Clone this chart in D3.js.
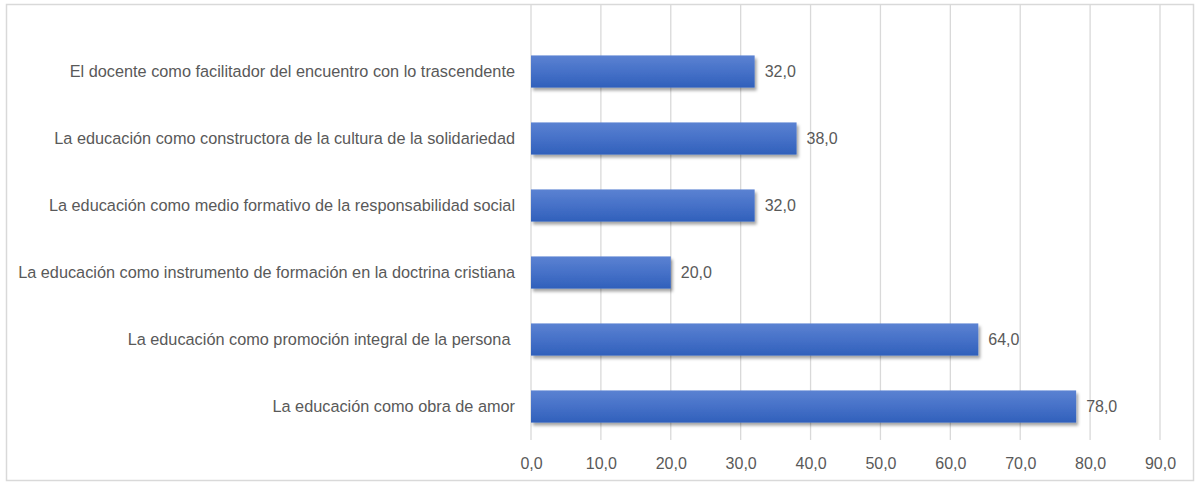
<!DOCTYPE html>
<html>
<head>
<meta charset="utf-8">
<script src="https://cdn.jsdelivr.net/npm/d3@7"></script>
<style>
  html, body { margin: 0; padding: 0; background: #fff; }
  svg text { font-family: "Liberation Sans", Arial, sans-serif; fill: #595959; }
</style>
</head>
<body>
<svg id="chart" width="1198" height="485"></svg>
<script>
// Categories, top to bottom
const categories = [
  "El docente como facilitador del encuentro con lo trascendente",
  "La educación como constructora de la cultura de la solidariedad",
  "La educación como medio formativo de la responsabilidad social",
  "La educación como instrumento de formación en la doctrina cristiana",
  "La educación como promoción integral de la persona ",
  "La educación como obra de amor"
];
// Percentages per category
const values = [32.0, 38.0, 32.0, 20.0, 64.0, 78.0];
// Axis ticks
const tickValues = [0, 10, 20, 30, 40, 50, 60, 70, 80, 90];

const svg = d3.select("#chart");
const fmt = v => v.toFixed(1).replace(".", ",");
const fontStack = "\"Liberation Sans\", Arial, sans-serif";

// Outer chart border
svg.append("rect")
  .attr("x", 6.5).attr("y", 4.5)
  .attr("width", 1187).attr("height", 476)
  .attr("fill", "#fff").attr("stroke", "#d9d9d9").attr("stroke-width", 1.5);

const x = d3.scaleLinear().domain([0, 90]).range([531, 1160]);
const y = d3.scaleBand().domain(categories).range([38, 440]).paddingInner(0.52).paddingOuter(0.26);

// Bar gradient and shadow
const defs = svg.append("defs");
const grad = defs.append("linearGradient").attr("id", "barGrad")
  .attr("x1", 0).attr("y1", 0).attr("x2", 0).attr("y2", 1);
grad.append("stop").attr("offset", "0%").attr("stop-color", "#5b82d2");
grad.append("stop").attr("offset", "50%").attr("stop-color", "#4671c8");
grad.append("stop").attr("offset", "100%").attr("stop-color", "#3060bb");
const shadow = defs.append("filter").attr("id", "barShadow")
  .attr("x", "-5%").attr("y", "-20%").attr("width", "115%").attr("height", "160%");
shadow.append("feDropShadow").attr("dx", 2).attr("dy", 3).attr("stdDeviation", 1.8)
  .attr("flood-color", "#000").attr("flood-opacity", 0.35);

// Vertical gridlines
svg.append("g").selectAll("line").data(tickValues).join("line")
  .attr("x1", d => x(d)).attr("x2", d => x(d))
  .attr("y1", 5).attr("y2", 440)
  .attr("stroke", "#d9d9d9").attr("stroke-width", 1.3);

// Bottom axis labels
const xAxis = d3.axisBottom(x).tickValues(tickValues).tickFormat(fmt).tickSize(0).tickPadding(0);
const gx = svg.append("g").attr("transform", "translate(0,458)").call(xAxis);
gx.select(".domain").remove();
gx.selectAll("text").attr("font-size", 16).attr("dy", "0.71em")
  .style("font-family", fontStack).attr("fill", "#595959");

// Category labels
const yAxis = d3.axisLeft(y).tickSize(0).tickPadding(0);
const gy = svg.append("g").attr("transform", "translate(515,0)").call(yAxis);
gy.select(".domain").remove();
gy.selectAll("text").attr("font-size", 16.3).attr("xml:space", "preserve")
  .style("white-space", "pre")
  .style("font-family", fontStack).attr("fill", "#595959");

// Bars
svg.append("g").selectAll("rect").data(values).join("rect")
  .attr("x", x(0))
  .attr("y", (d, i) => y(categories[i]))
  .attr("width", d => x(d) - x(0))
  .attr("height", y.bandwidth())
  .attr("fill", "url(#barGrad)")
  .attr("filter", "url(#barShadow)");

// Value labels
svg.append("g").selectAll("text").data(values).join("text")
  .attr("x", d => x(d) + 10)
  .attr("y", (d, i) => y(categories[i]) + y.bandwidth() / 2)
  .attr("dy", "0.35em")
  .attr("font-size", 16)
  .text(fmt);
</script>
</body>
</html>
